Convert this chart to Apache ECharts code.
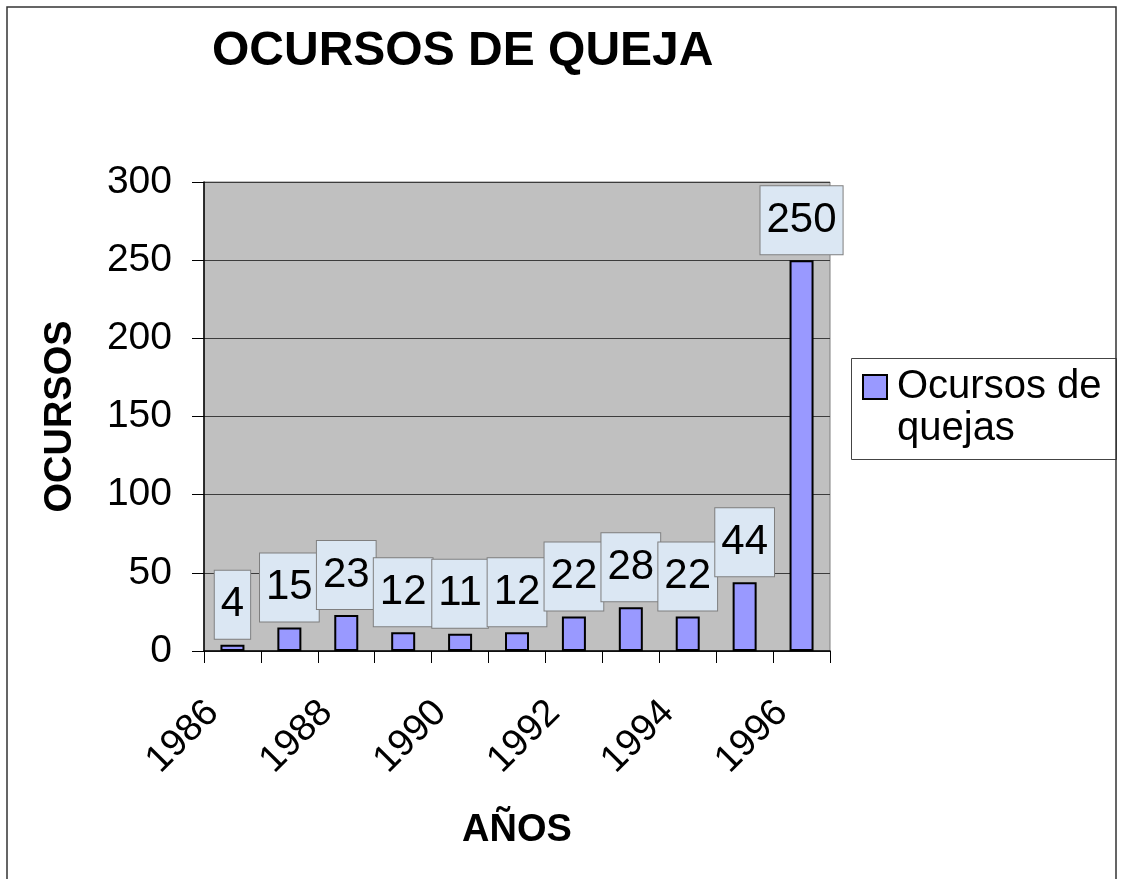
<!DOCTYPE html>
<html>
<head>
<meta charset="utf-8">
<script src="https://cdn.jsdelivr.net/npm/echarts@6/dist/echarts.min.js"></script>
<style>
  html, body { margin: 0; padding: 0; background: #fff; }
  #chart { width: 1125px; height: 879px; }
</style>
</head>
<body>
<div id="chart"></div>
<script>
// data
var years = ['1986', '1987', '1988', '1989', '1990', '1991', '1992', '1993', '1994', '1995', '1996'];
var quejas = [4, 15, 23, 12, 11, 12, 22, 28, 22, 44, 250];
var seriesName = 'Ocursos de quejas';

var font = 'Arial, "Liberation Sans", sans-serif';

var myChart = echarts.init(document.getElementById('chart'));

var option = {
    backgroundColor: '#fff',
    animation: false,
    title: {
        text: 'OCURSOS DE QUEJA',
        left: 212,
        top: 28,
        padding: 0,
        textStyle: {
            fontFamily: font,
            fontSize: 48,
            fontWeight: 'bold',
            color: '#000'
        }
    },
    graphic: [
        {   // outer frame
            type: 'rect',
            shape: {x: 7, y: 7, width: 1109, height: 1000},
            style: {fill: 'none', stroke: '#333', lineWidth: 1.5},
            silent: true
        },
        {   // legend frame
            type: 'rect',
            shape: {x: 851.5, y: 358.5, width: 265, height: 101},
            style: {fill: '#fff', stroke: '#444', lineWidth: 1},
            silent: true,
            z: -1
        }
    ],
    legend: {
        data: [{name: seriesName, icon: 'rect'}],
        left: 862,
        top: 324,
        padding: 0,
        itemWidth: 24,
        itemHeight: 24,
        formatter: function ()
        {
            // blank first line keeps the icon level with "Ocursos de"
            return ' \nOcursos de\nquejas';
        },
        textStyle: {
            fontFamily: font,
            fontSize: 40,
            lineHeight: 42,
            color: '#000',
            padding: [0, 0, 0, 5]
        }
    },
    grid: {
        left: 204,
        right: 295,
        top: 182,
        bottom: 228,
        show: true,
        backgroundColor: '#c0c0c0',
        borderColor: '#808080',
        borderWidth: 1
    },
    xAxis: {
        type: 'category',
        data: years,
        boundaryGap: true,
        name: 'AÑOS',
        nameLocation: 'middle',
        nameGap: 161,
        nameTextStyle: {
            fontFamily: font,
            fontSize: 38,
            fontWeight: 'bold',
            color: '#000'
        },
        axisLine: {lineStyle: {color: '#000', width: 1.5}},
        axisTick: {show: true, interval: 0, length: 12, lineStyle: {color: '#000'}},
        axisLabel: {
            interval: 1,
            rotate: 45,
            margin: 36,
            padding: [0, 28, 0, 0],
            fontFamily: font,
            fontSize: 38,
            color: '#000'
        },
        splitLine: {show: false}
    },
    yAxis: {
        type: 'value',
        min: 0,
        max: 300,
        interval: 50,
        name: 'OCURSOS',
        nameLocation: 'middle',
        nameGap: 124,
        nameTextStyle: {
            fontFamily: font,
            fontSize: 38,
            fontWeight: 'bold',
            color: '#000'
        },
        axisLine: {show: true, lineStyle: {color: '#000', width: 1.5}},
        axisTick: {show: true, length: 12, lineStyle: {color: '#000'}},
        axisLabel: {
            margin: 32,
            fontFamily: font,
            fontSize: 39,
            color: '#000'
        },
        splitLine: {show: true, lineStyle: {color: '#3c3c3c', width: 1}}
    },
    series: [
        {
            name: seriesName,
            type: 'bar',
            data: quejas,
            barWidth: 24,
            itemStyle: {
                color: '#9999ff',
                borderColor: '#000',
                borderWidth: 2
            },
            label: {
                show: true,
                position: 'top',
                distance: 6,
                fontFamily: font,
                fontSize: 42,
                lineHeight: 46,
                color: '#000',
                padding: [11, 6, 11, 6],
                backgroundColor: '#dbe7f3',
                borderColor: '#7f7f7f',
                borderWidth: 1
            }
        }
    ]
};

myChart.setOption(option);
</script>
</body>
</html>
